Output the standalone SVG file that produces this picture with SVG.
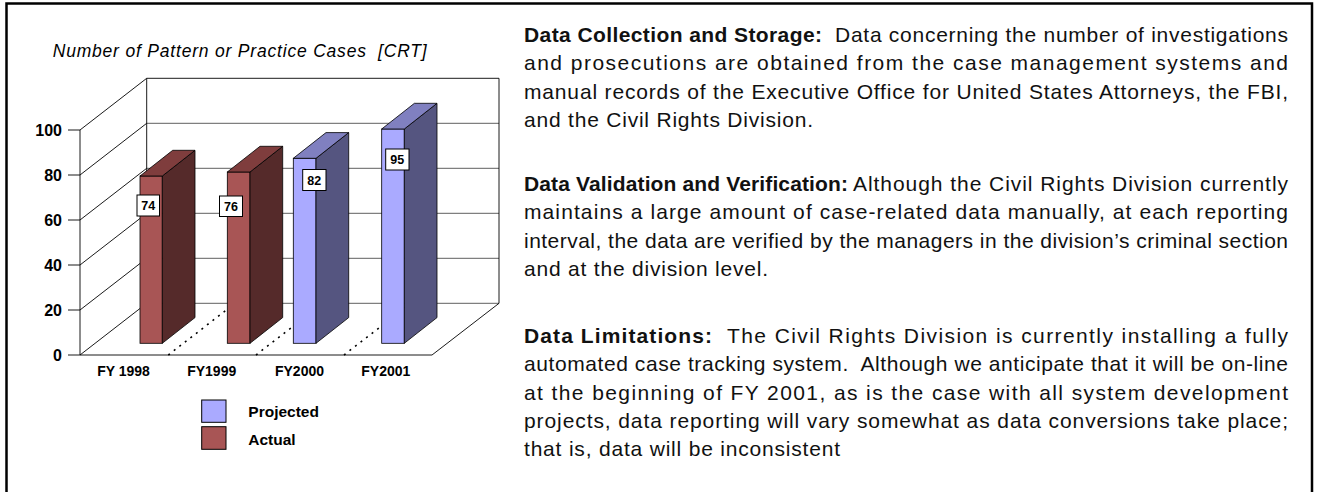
<svg xmlns="http://www.w3.org/2000/svg" width="1317" height="492" viewBox="0 0 1317 492">
<style>
.para{font-family:"Liberation Sans",Arial,sans-serif;font-size:21px;fill:#111}
.b{font-weight:bold}
.tick{font-family:"Liberation Sans",Arial,sans-serif;font-size:16px;font-weight:bold;fill:#000;text-anchor:end}
.cat{font-family:"Liberation Sans",Arial,sans-serif;font-size:14px;font-weight:bold;fill:#000;text-anchor:middle}
.leg{font-family:"Liberation Sans",Arial,sans-serif;font-size:15.5px;font-weight:bold;fill:#000}
.val{font-family:"Liberation Sans",Arial,sans-serif;font-size:12.5px;font-weight:bold;fill:#000;text-anchor:middle}
.grid{stroke:#7f7f7f;stroke-width:1.2;fill:none}
.wall{stroke:#000;stroke-width:0.9;fill:none}
.dot{stroke:#000;stroke-width:1.6;stroke-dasharray:2 5;fill:none}
.redF{fill:#A85555;stroke:#000;stroke-width:0.8}
.redS{fill:#552A2A;stroke:#000;stroke-width:0.8}
.redT{fill:#7F3D3D;stroke:#000;stroke-width:0.8}
.bluF{fill:#AAAAFF;stroke:#000;stroke-width:0.8}
.bluS{fill:#555580;stroke:#000;stroke-width:0.8}
.bluT{fill:#8080C0;stroke:#000;stroke-width:0.8}
.lbox{fill:#fff;stroke:#000;stroke-width:1}
</style>
<rect x="6.5" y="3.5" width="1305.5" height="520" fill="none" stroke="#000" stroke-width="2.5"/>

<g id="chart">
<text x="52.7" y="57.3" font-family="Liberation Sans, Arial, sans-serif" font-size="17.5" font-style="italic" textLength="374" lengthAdjust="spacing" style="white-space:pre">Number of Pattern or Practice Cases  [CRT]</text>

<g id="axes">
<rect x="146.7" y="78.3" width="352.3" height="225" fill="#fff" stroke="none"/>
<line class="grid" x1="146.7" y1="303.3" x2="499" y2="303.3"/>
<line class="grid" x1="146.7" y1="258.3" x2="499" y2="258.3"/>
<line class="grid" x1="146.7" y1="213.3" x2="499" y2="213.3"/>
<line class="grid" x1="146.7" y1="168.3" x2="499" y2="168.3"/>
<line class="grid" x1="146.7" y1="123.3" x2="499" y2="123.3"/>
<line class="wall" x1="146.7" y1="78.3" x2="499" y2="78.3"/>
<line class="wall" x1="499" y1="78.3" x2="499" y2="303.3"/>
<line class="wall" x1="146.7" y1="78.3" x2="146.7" y2="303.3"/>
<line class="wall" x1="80" y1="355" x2="146.7" y2="303.3"/>
<line class="wall" x1="80" y1="310" x2="146.7" y2="258.3"/>
<line class="wall" x1="80" y1="265" x2="146.7" y2="213.3"/>
<line class="wall" x1="80" y1="220" x2="146.7" y2="168.3"/>
<line class="wall" x1="80" y1="175" x2="146.7" y2="123.3"/>
<line class="wall" x1="80" y1="130" x2="146.7" y2="78.3"/>
<line class="wall" x1="80" y1="130" x2="80" y2="355"/>
<line class="wall" x1="80" y1="355" x2="432" y2="355"/>
<line class="wall" x1="432" y1="355" x2="499" y2="303.3"/>
<path class="wall" d="M68 130H80M68 175H80M68 220H80M68 265H80M68 310H80M68 355H80"/>
<text class="tick" x="62" y="135.7">100</text>
<text class="tick" x="62" y="180.7">80</text>
<text class="tick" x="62" y="225.7">60</text>
<text class="tick" x="62" y="270.7">40</text>
<text class="tick" x="62" y="315.7">20</text>
<text class="tick" x="62" y="360.7">0</text>
<line class="dot" x1="168.3" y1="355" x2="235" y2="303.3"/>
<line class="dot" x1="256" y1="355" x2="322.7" y2="303.3"/>
<line class="dot" x1="344" y1="355" x2="410.7" y2="303.3"/>
<text class="cat" x="123.5" y="376">FY 1998</text>
<text class="cat" x="211.7" y="376">FY1999</text>
<text class="cat" x="299.5" y="376">FY2000</text>
<text class="cat" x="385.8" y="376">FY2001</text>
</g>

<g id="bar-fy1998">
<rect class="redF" x="140" y="176" width="22.3" height="167.3"/>
<polygon class="redS" points="162.3,176 195,150.3 195,317.6 162.3,343.3"/>
<polygon class="redT" points="140,176 172.7,150.3 195,150.3 162.3,176"/>
<rect class="lbox" x="137" y="195" width="22.5" height="21"/>
<text class="val" x="148.2" y="210">74</text>
</g>
<g id="bar-fy1999">
<rect class="redF" x="227.3" y="172" width="22.7" height="171.3"/>
<polygon class="redS" points="250,172 282.7,146.3 282.7,317.6 250,343.3"/>
<polygon class="redT" points="227.3,172 260,146.3 282.7,146.3 250,172"/>
<rect class="lbox" x="219.5" y="196" width="23" height="20.5"/>
<text class="val" x="231" y="210.7">76</text>
</g>
<g id="bar-fy2000">
<rect class="bluF" x="293.3" y="158.3" width="22.7" height="185"/>
<polygon class="bluS" points="316,158.3 348.7,132.6 348.7,317.6 316,343.3"/>
<polygon class="bluT" points="293.3,158.3 326,132.6 348.7,132.6 316,158.3"/>
<rect class="lbox" x="302.7" y="169.5" width="23.3" height="21"/>
<text class="val" x="314.3" y="184.5">82</text>
</g>
<g id="bar-fy2001">
<rect class="bluF" x="381.7" y="129" width="22.6" height="214.3"/>
<polygon class="bluS" points="404.3,129 437,103.3 437,317.6 404.3,343.3"/>
<polygon class="bluT" points="381.7,129 414.4,103.3 437,103.3 404.3,129"/>
<rect class="lbox" x="385.7" y="149" width="23.3" height="21"/>
<text class="val" x="397.3" y="164">95</text>
</g>

<g id="legend">
<rect class="bluF" x="201.7" y="400" width="24.3" height="22.3" style="stroke-width:1"/>
<text class="leg" x="248.3" y="417">Projected</text>
<rect class="redF" x="201.7" y="426.7" width="24.3" height="22.6" style="stroke-width:1"/>
<text class="leg" x="248.3" y="444.5">Actual</text>
</g>
</g>

<g id="text-collection">
<text class="para b" x="524" y="42" textLength="298" lengthAdjust="spacing">Data Collection and Storage:</text>
<text class="para" x="835" y="42" textLength="453" lengthAdjust="spacing">Data concerning the number of investigations</text>
<text class="para" x="524" y="70.3" textLength="764" lengthAdjust="spacing">and prosecutions are obtained from the case management systems and</text>
<text class="para" x="524" y="98.6" textLength="764" lengthAdjust="spacing">manual records of the Executive Office for United States Attorneys, the FBI,</text>
<text class="para" x="524" y="127" textLength="289" lengthAdjust="spacing">and the Civil Rights Division.</text>
</g>
<g id="text-validation">
<text class="para b" x="524" y="191" textLength="324" lengthAdjust="spacing">Data Validation and Verification:</text>
<text class="para" x="853" y="191" textLength="435" lengthAdjust="spacing">Although the Civil Rights Division currently</text>
<text class="para" x="524" y="219.3" textLength="764" lengthAdjust="spacing">maintains a large amount of case-related data manually, at each reporting</text>
<text class="para" x="524" y="247.6" textLength="764" lengthAdjust="spacing">interval, the data are verified by the managers in the division’s criminal section</text>
<text class="para" x="524" y="276" textLength="244" lengthAdjust="spacing">and at the division level.</text>
</g>
<g id="text-limitations">
<text class="para b" x="524" y="343" textLength="188" lengthAdjust="spacing">Data Limitations:</text>
<text class="para" x="727" y="343" textLength="561" lengthAdjust="spacing">The Civil Rights Division is currently installing a fully</text>
<text class="para" x="524" y="371.3" textLength="764" lengthAdjust="spacing" style="white-space:pre">automated case tracking system.  Although we anticipate that it will be on-line</text>
<text class="para" x="524" y="399.6" textLength="764" lengthAdjust="spacing">at the beginning of FY 2001, as is the case with all system development</text>
<text class="para" x="524" y="428" textLength="764" lengthAdjust="spacing">projects, data reporting will vary somewhat as data conversions take place;</text>
<text class="para" x="524" y="456.3" textLength="316" lengthAdjust="spacing">that is, data will be inconsistent</text>
</g>
</svg>
